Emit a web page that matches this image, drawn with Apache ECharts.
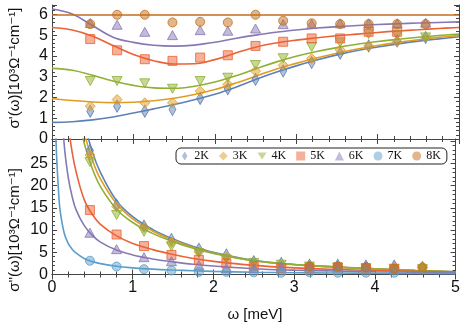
<!DOCTYPE html>
<html>
<head>
<meta charset="utf-8">
<script src="https://cdn.jsdelivr.net/npm/echarts@6/dist/echarts.min.js"></script>
<style>
  html, body { margin: 0; padding: 0; background: #fff; }
  #chart { width: 463px; height: 323px; }
</style>
</head>
<body>
<div id="chart"></div>
<script>
// legend / temperatures
const temps = ['2K', '3K', '4K', '5K', '6K', '7K', '8K'];
const xTicks = [0, 1, 2, 3, 4, 5];

// measured frequencies (meV)
const markerX = [0.47, 0.80, 1.14, 1.48, 1.82, 2.16, 2.50, 2.84, 3.19, 3.54, 3.89, 4.24, 4.59];

// sigma' markers (top panel)
const re2K = [1.34, 1.58, 1.34, 1.42, 1.95, 2.42, 2.87, 3.27, 3.68, 4.13, 4.48, 4.72, 4.89];
const re3K = [1.58, 1.90, 1.74, 1.74, 2.30, 2.63, 3.27, 3.55, 3.87, 4.29, 4.48, 4.68, 4.89];
const re4K = [2.79, 2.79, 2.68, 2.42, 2.79, 2.95, 3.56, 3.89, 4.43, 4.65, 5.05, 5.00, 4.89];
const re5K = [4.81, 4.27, 3.84, 3.76, 3.92, 4.03, 4.48, 4.68, 4.84, 4.84, 5.16, 5.16, null];
const re6K = [5.58, 5.50, 5.16, 5.00, 5.24, 5.21, 5.32, 5.53, 5.53, 5.57, 5.57, 5.57, 5.60];
const re8K = [5.53, 5.98, 5.98, 5.61, 5.64, 5.61, 5.98, 5.69, 5.57, 5.53, 5.53, 5.53, 5.53];

// sigma'' markers (bottom panel)
const im2K = [27.9, 15.6, 10.9, 7.9, 5.7, 4.4, 2.9, 2.5, 2.1, 2.1, 1.9, 1.9, 1.6];
const im3K = [26.9, 15.3, 10.6, 7.2, 5.1, 3.9, 2.1, 2.0, 2.1, 1.9, 1.6, 1.6, 1.6];
const im4K = [25.3, 13.4, 9.6, 6.3, 4.8, 3.4, 2.6, 2.2, 1.8, 1.6, 1.4, 1.3, 1.2];
const im5K = [14.5, 9.0, 6.4, 4.4, 3.3, 2.5, 1.9, 1.4, 1.4, 1.6, 1.4, 1.2, null];
const im6K = [9.4, 5.7, 3.9, 3.0, 2.1, 1.4, 1.4, 1.8, 1.9, 1.9, 1.8, 1.2, null];
const im7K = [3.1, 1.8, 1.2, 0.9, 0.6, 0.6, 0.5, 0.4, 0.5, 0.4, 0.4, 0.4, null];
const im8K = [null, null, null, null, null, null, null, null, 1.8, 1.8, 1.6, 1.3, 1.6];

// fitted curves, sigma'
const fitX1 = [0, 0.25, 0.5, 0.75, 1, 1.25, 1.5, 1.75, 2, 2.25, 2.5, 2.75, 3, 3.25, 3.5, 3.75, 4, 4.25, 4.5, 4.75, 5];
const fitRe2K = [0.80, 0.83, 0.92, 1.06, 1.25, 1.45, 1.66, 1.89, 2.15, 2.48, 2.86, 3.21, 3.52, 3.80, 4.05, 4.26, 4.43, 4.58, 4.71, 4.82, 4.92];
const fitRe3K = [1.95, 1.85, 1.78, 1.75, 1.77, 1.84, 1.96, 2.14, 2.38, 2.68, 3.02, 3.36, 3.64, 3.90, 4.13, 4.33, 4.50, 4.65, 4.78, 4.89, 4.98];
const fitRe4K = [3.40, 3.31, 3.07, 2.79, 2.58, 2.46, 2.44, 2.54, 2.74, 3.03, 3.37, 3.70, 3.98, 4.21, 4.40, 4.56, 4.69, 4.80, 4.90, 4.98, 5.05];
const fitRe5K = [5.37, 5.25, 4.95, 4.50, 4.07, 3.77, 3.61, 3.62, 3.82, 4.13, 4.42, 4.62, 4.76, 4.87, 4.97, 5.05, 5.13, 5.20, 5.26, 5.32, 5.37];
const fitRe6K = [6.26, 6.02, 5.45, 4.90, 4.65, 4.51, 4.47, 4.52, 4.66, 4.84, 5.00, 5.14, 5.25, 5.34, 5.41, 5.46, 5.51, 5.55, 5.58, 5.61, 5.64];
const flatX = [0, 5];
const fitRe8K = [5.97, 5.97];

// fitted curves, sigma''
const fitX2 = [0.03, 0.05, 0.08, 0.1, 0.15, 0.2, 0.25, 0.3, 0.4, 0.5, 0.6, 0.8, 1, 1.25, 1.5, 1.75, 2, 2.5, 3, 3.5, 4, 4.5, 5];
const fitIm2K = [null, null, null, null, null, null, null, 46, 34.5, 27.6, 23.0, 16.6, 13.0, 10.1, 8.0, 6.3, 5.0, 3.2, 2.25, 1.7, 1.28, 0.9, 0.58];
const fitIm3K = [null, null, null, null, null, null, null, 43, 32, 25.8, 21.5, 15.9, 12.5, 9.75, 7.75, 6.1, 4.85, 3.1, 2.2, 1.66, 1.25, 0.87, 0.55];
const fitIm4K = [null, null, null, null, null, null, null, 38, 29.5, 23.8, 19.8, 14.7, 11.7, 9.2, 7.4, 5.9, 4.75, 3.1, 2.25, 1.72, 1.3, 0.92, 0.6];
const fitIm5K = [null, null, null, null, 45, 34, 27.5, 23, 16.8, 13.5, 11.3, 8.7, 7.0, 5.6, 4.5, 3.6, 2.95, 2.05, 1.5, 1.15, 0.9, 0.72, 0.6];
const fitIm6K = [null, null, null, 45, 29.5, 22, 17.5, 14.5, 11.0, 8.8, 7.3, 5.5, 4.4, 3.5, 2.85, 2.3, 1.9, 1.3, 0.98, 0.78, 0.63, 0.52, 0.45];
const fitIm7K = [50, 30, 19, 14.5, 9.4, 7.0, 5.7, 4.8, 3.6, 2.9, 2.45, 1.85, 1.5, 1.2, 1.0, 0.85, 0.7, 0.5, 0.4, 0.33, 0.28, 0.24, 0.2];

const colors = ['#5E81B5', '#E19C24', '#8FB032', '#EB6235', '#8778B3', '#5D9EC7', '#C56E1A'];
const fills = ['rgba(94,129,181,0.5)', 'rgba(225,156,36,0.5)', 'rgba(143,176,50,0.5)', 'rgba(235,98,53,0.5)',
  'rgba(135,120,179,0.5)', 'rgba(93,158,199,0.5)', 'rgba(197,110,26,0.5)'];
const symbols = ['diamond', 'diamond', 'triangle', 'rect', 'triangle', 'circle', 'circle'];
const symbolRot = [0, 0, 180, 0, 0, 0, 0];
const symbolSizes = [[7, 12], [10, 10], [10, 9], [9, 9], [10, 9], [9, 9], [9, 9]];
const legendIcons = ['path://M3,0 L6,5 L3,10 L0,5 Z', 'diamond', 'path://M0,0 L10,0 L5,8 Z', 'rect', 'triangle', 'circle', 'circle'];

const reMarkers = [re2K, re3K, re4K, re5K, re6K, null, re8K];
const imMarkers = [im2K, im3K, im4K, im5K, im6K, im7K, im8K];
const reFits = [fitRe2K, fitRe3K, fitRe4K, fitRe5K, fitRe6K, null, fitRe8K];
const imFits = [fitIm2K, fitIm3K, fitIm4K, fitIm5K, fitIm6K, fitIm7K, null];

const sansFont = "'Liberation Sans', 'DejaVu Sans', Arial, sans-serif";
const axisGray = '#444';

function pairs(xs, ys) {
  return xs.map((x, i) => [x, ys[i]]).filter(p => p[1] !== null && p[1] !== undefined);
}

const series = [];
temps.forEach((t, i) => {
  const mark = {
    name: t,
    type: 'scatter',
    symbol: symbols[i],
    symbolRotate: symbolRot[i],
    symbolSize: symbolSizes[i],
    itemStyle: { color: fills[i], borderColor: colors[i], borderWidth: 0.8, opacity: 1 },
    z: 5
  };
  if (reMarkers[i]) series.push(Object.assign({}, mark, { xAxisIndex: 0, yAxisIndex: 0, data: pairs(markerX, reMarkers[i]) }));
  if (imMarkers[i]) series.push(Object.assign({}, mark, { xAxisIndex: 2, yAxisIndex: 2, data: pairs(markerX, imMarkers[i]) }));
});
temps.forEach((t, i) => {
  const line = {
    name: t + ' fit',
    type: 'line',
    showSymbol: false,
    smooth: 0.4,
    lineStyle: { color: colors[i], width: 1.6 },
    itemStyle: { color: colors[i] },
    z: 3
  };
  if (reFits[i]) series.push(Object.assign({}, line, { xAxisIndex: 0, yAxisIndex: 0,
    data: pairs(i === 6 ? flatX : fitX1, reFits[i]) }));
  if (imFits[i]) series.push(Object.assign({}, line, { xAxisIndex: 2, yAxisIndex: 2, data: pairs(fitX2, imFits[i]) }));
});

function xAx(gridIndex, position, showLabels) {
  return {
    type: 'value', gridIndex: gridIndex, position: position,
    min: xTicks[0], max: xTicks[xTicks.length - 1], interval: 1,
    axisLine: { show: true, lineStyle: { color: axisGray, width: 1 } },
    axisTick: { show: true, inside: true, length: 5, lineStyle: { color: axisGray } },
    minorTick: { show: true, splitNumber: 5, length: 3, lineStyle: { color: axisGray } },
    axisLabel: { show: showLabels, color: '#111', fontSize: 16, fontFamily: sansFont, margin: 5 },
    splitLine: { show: false }
  };
}
function yAx(gridIndex, position, max, interval, showLabels, hideTop) {
  return {
    type: 'value', gridIndex: gridIndex, position: position,
    min: 0, max: max, interval: interval,
    axisLine: { show: true, onZero: false, lineStyle: { color: axisGray, width: 1 } },
    axisTick: { show: true, inside: true, length: 5, lineStyle: { color: axisGray } },
    minorTick: { show: true, splitNumber: 5, length: 3, lineStyle: { color: axisGray } },
    axisLabel: {
      show: showLabels, color: '#111', fontSize: 16, fontFamily: sansFont, margin: 4,
      formatter: v => (hideTop && v > 27) ? '' : String(v)
    },
    splitLine: { show: false }
  };
}

const chart = echarts.init(document.getElementById('chart'), null, { renderer: 'canvas' });
chart.setOption({
  animation: false,
  backgroundColor: '#fff',
  grid: [
    { left: 52, right: 4, top: 5, height: 134 },
    { left: 52, right: 4, top: 139, height: 135.5 }
  ],
  xAxis: [xAx(0, 'bottom', false), xAx(0, 'top', false), xAx(1, 'bottom', true), xAx(1, 'top', false)],
  yAxis: [yAx(0, 'left', 6.45, 1, true, false), yAx(0, 'right', 6.45, 1, false, false),
          yAx(1, 'left', 30.5, 5, true, true), yAx(1, 'right', 30.5, 5, false, true)],
  legend: {
    data: temps.map((t, i) => ({ name: t, icon: legendIcons[i] })),
    left: 176, top: 148,
    itemWidth: 9, itemHeight: 9, itemGap: 10,
    padding: [2, 6, 2, 6],
    borderColor: '#222', borderWidth: 1, borderRadius: 5,
    backgroundColor: '#fff',
    itemStyle: { borderWidth: 0 },
    textStyle: { fontFamily: "'Liberation Serif', 'DejaVu Serif', serif", fontSize: 12, color: '#111' }
  },
  graphic: [
    { type: 'text', x: 255, y: 315, style: { text: 'ω [meV]', font: '15px ' + sansFont, fill: '#111', align: 'center', verticalAlign: 'middle' } },
    { type: 'text', x: 15, y: 68, rotation: Math.PI / 2, style: { text: "σ'(ω)[10³Ω⁻¹cm⁻¹]", font: '15px ' + sansFont, fill: '#111', align: 'center', verticalAlign: 'middle' } },
    { type: 'text', x: 15, y: 230, rotation: Math.PI / 2, style: { text: "σ''(ω)[10³Ω⁻¹cm⁻¹]", font: '15px ' + sansFont, fill: '#111', align: 'center', verticalAlign: 'middle' } }
  ],
  series: series
});
</script>
</body>
</html>
